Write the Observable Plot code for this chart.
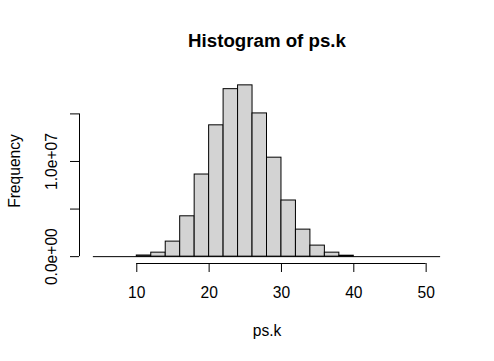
<!DOCTYPE html>
<html><head><meta charset="utf-8">
<script src="https://cdn.jsdelivr.net/npm/d3@7"></script>
<script src="https://cdn.jsdelivr.net/npm/@observablehq/plot@0.6"></script>
<style>body{margin:0;background:#fff} svg{display:block}</style>
</head><body><div id="chart"></div>
<script>
const breaks = [4,6,8,10,12,14,16,18,20,22,24,26,28,30,32,34,36,38,40,42,44,46,48,50,52];
const counts = [0,0,0,120000,420000,1580000,4240000,8630000,13800000,17600000,18000000,15050000,10400000,5900000,2840000,1160000,420000,100000,0,0,0,0,0,0];
const xTicks = [10,20,30,40,50];
const yTicks = [0,5e6,1e7,1.5e7];
const yTickLabels = ["0.0e+00","","1.0e+07",""];
const title = "Histogram of ps.k", xLabel = "ps.k", yLabel = "Frequency";

const bins = counts.map((c,i)=>({x1:breaks[i],x2:breaks[i+1],count:c}));
const ymax = d3.max(counts);
const xPad = (breaks[breaks.length-1]-breaks[0])*0.04;
const yPad = ymax*0.04;
const font = "'Liberation Sans', Arial, sans-serif";
const fs = 15.6;

const chart = Plot.plot({
  width:494, height:361,
  marginLeft:79, marginRight:40, marginTop:78, marginBottom:98,
  x:{domain:[breaks[0]-xPad, breaks[breaks.length-1]+xPad]},
  y:{domain:[-yPad, ymax+yPad]},
  style:{fontFamily:font, fontSize:fs+"px", color:"black", background:"white"},
  marks:[
    Plot.rect(bins,{x1:"x1",x2:"x2",y1:0,y2:"count",fill:"#d3d3d3",stroke:"black",strokeWidth:1,inset:0}),
    Plot.ruleY([0],{x1:breaks[0],x2:breaks[breaks.length-1],stroke:"black"}),
    Plot.ruleY([-yPad],{x1:xTicks[0],x2:xTicks[xTicks.length-1],stroke:"black"}),
    Plot.axisX(xTicks,{tickSize:9,tickFormat:()=>"",label:null}),
    Plot.text(xTicks,{x:d=>d,frameAnchor:"bottom",lineAnchor:"middle",textAnchor:"middle",dy:29.5,text:d=>String(d),fontSize:fs,fill:"black"}),
    Plot.ruleX([breaks[0]-xPad],{y1:yTicks[0],y2:yTicks[yTicks.length-1],stroke:"black"}),
    Plot.axisY(yTicks,{tickSize:9,tickFormat:()=>"",label:null}),
    Plot.text(yTicks.map((t,i)=>({t,l:yTickLabels[i]})),{y:"t",text:"l",frameAnchor:"left",lineAnchor:"middle",textAnchor:"middle",dx:-27.3,rotate:-90,fontSize:fs,fill:"black"}),
    Plot.text([title],{frameAnchor:"top",lineAnchor:"middle",textAnchor:"middle",dy:-37.3,fontSize:18.7,fontWeight:"bold",fill:"black"}),
    Plot.text([xLabel],{frameAnchor:"bottom",lineAnchor:"middle",textAnchor:"middle",dy:67,fontSize:fs,fill:"black"}),
    Plot.text([yLabel],{frameAnchor:"left",lineAnchor:"middle",textAnchor:"middle",dx:-64.7,rotate:-90,fontSize:fs,fill:"black"})
  ]
});
document.getElementById("chart").appendChild(chart);
</script>
</body></html>
